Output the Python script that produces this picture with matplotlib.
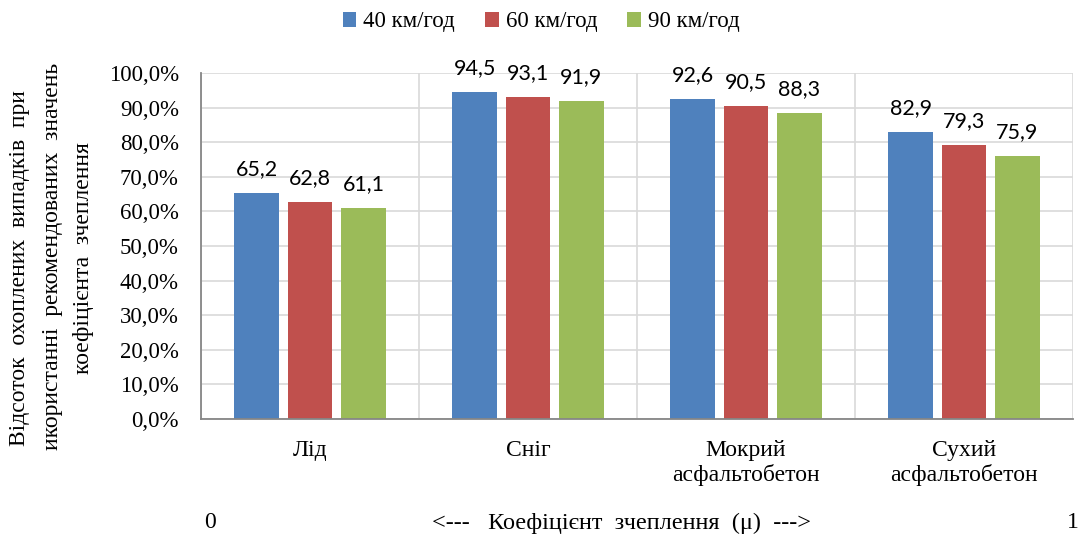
import matplotlib
matplotlib.use("Agg")
import matplotlib.pyplot as plt
import numpy as np
from matplotlib.ticker import FuncFormatter
from matplotlib.patches import Patch

categories = ["Лід", "Сніг", "Мокрий\nасфальтобетон", "Сухий\nасфальтобетон"]
series_names = ["40 км/год", "60 км/год", "90 км/год"]
v40 = [65.2, 94.5, 92.6, 82.9]
v60 = [62.8, 93.1, 90.5, 79.3]
v90 = [61.1, 91.9, 88.3, 75.9]
colors = ["#4F81BD", "#C0504D", "#9BBB59"]
ylabel_lines = ["Відсоток  охоплених  випадків  при",
                "икористанні  рекомендованих  значень",
                "коефіцієнта  зчеплення"]
bottom_text = "<---   Коефіцієнт  зчеплення  (μ)  --->"

SERIF = "Liberation Serif"
SANS = "Lato"

fig = plt.figure(figsize=(10.84, 5.36), dpi=100)
ax = fig.add_axes([201/1084, 1 - 419/536, (1073-201)/1084, (419-73)/536])

x = np.arange(len(categories))
width = 0.205
offs = [-0.245, 0.0, 0.245]
for vals, off, c in zip([v40, v60, v90], offs, colors):
    bars = ax.bar(x + off, np.array(vals) / 100.0, width=width, color=c, zorder=3)
    for b, v in zip(bars, vals):
        ax.annotate(f"{v:.1f}".replace(".", ","),
                    xy=(b.get_x() + b.get_width()/2, b.get_height()),
                    xytext=(0, 10), textcoords="offset points",
                    ha="center", va="bottom", fontsize=15.5, family=SANS, color="black")

ax.set_xlim(-0.5, len(categories) - 0.5)
ax.set_ylim(0, 1.0)
ax.set_yticks(np.arange(0, 1.01, 0.1))
ax.yaxis.set_major_formatter(FuncFormatter(lambda v, p: f"{v*100:.1f}%".replace(".", ",")))
ax.set_xticks(x)
ax.set_xticklabels(categories, family=SERIF, fontsize=17, linespacing=1.2)
for lab in ax.get_yticklabels():
    lab.set_family(SERIF)
    lab.set_fontsize(16.5)
ax.tick_params(axis="y", length=0, pad=16)
ax.tick_params(axis="x", length=0, pad=15)

# grid
ax.grid(axis="y", color="#D9D9D9", linewidth=1.2, zorder=0)
for b in np.arange(-0.5, len(categories) + 0.5, 1.0):
    ax.axvline(b, color="#D9D9D9", linewidth=1.2, zorder=0)
for s in ["top", "right"]:
    ax.spines[s].set_visible(False)
ax.spines["left"].set_color("#868686")
ax.spines["bottom"].set_color("#868686")
ax.spines["left"].set_linewidth(1.3)
ax.spines["bottom"].set_linewidth(1.3)
ax.spines["left"].set_zorder(4)
ax.spines["bottom"].set_zorder(4)

# y label lines
xs = [20, 53, 84]
ys = [268, 256, 258]
for xp, yp, line in zip(xs, ys, ylabel_lines):
    fig.text(xp/1084, 1 - yp/536, line, rotation=90, ha="center", va="center",
             family=SERIF, fontsize=17)

# legend
handles = [Patch(facecolor=c, edgecolor="none") for c in colors]
fig.legend(handles, series_names, loc="center", bbox_to_anchor=(541/1084, 1 - 22/536),
           ncol=3, frameon=False, prop={"family": SERIF, "size": 16.5},
           handlelength=0.6, handleheight=0.6, handletextpad=0.3, columnspacing=1.3)

# bottom axis annotation
fig.text(210/1084, 1 - 523/536, "0", ha="center", va="center", family=SERIF, fontsize=17)
fig.text(1073/1084, 1 - 523/536, "1", ha="center", va="center", family=SERIF, fontsize=17)
fig.text(621/1084, 1 - 523/536, bottom_text, ha="center", va="center", family=SERIF, fontsize=17.5)

fig.savefig("out.png", dpi=100)
